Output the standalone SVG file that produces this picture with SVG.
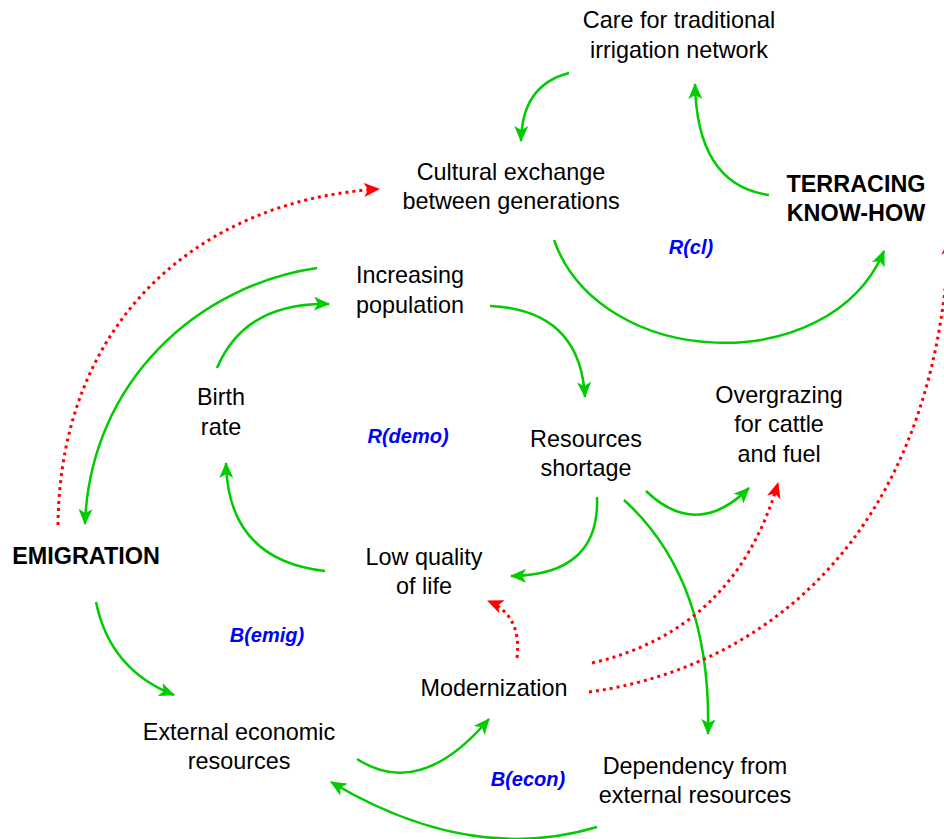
<svg xmlns="http://www.w3.org/2000/svg" width="944" height="839" viewBox="0 0 944 839">
<style>
.t{font-family:"Liberation Sans",Arial,sans-serif;font-size:23.4px;fill:#000;text-anchor:middle}
.b{font-weight:bold}
.l{font-family:"Liberation Sans",Arial,sans-serif;font-size:20px;font-weight:bold;font-style:italic;fill:#0000FF;text-anchor:middle}
.g{fill:none;stroke:#00CC00;stroke-width:2.5;marker-end:url(#ag)}
.r{fill:none;stroke:#FF0000;stroke-width:3;stroke-dasharray:3 4;marker-end:url(#ar)}
</style>
<defs>
<marker id="ag" viewBox="0 0 16 14" refX="15" refY="7" markerWidth="16" markerHeight="14" orient="auto" markerUnits="userSpaceOnUse">
<path d="M0,0 L16,7 L0,14 L4,7 z" fill="#00CC00"/>
</marker>
<marker id="ar" viewBox="0 0 16 14" refX="15" refY="7" markerWidth="16" markerHeight="14" orient="auto" markerUnits="userSpaceOnUse">
<path d="M0,0 L16,7 L0,14 L4,7 z" fill="#FF0000"/>
</marker>
</defs>
<rect width="944" height="839" fill="#fff"/>
<g id="connectors">
<path class="g" d="M569,73 Q522,85 521,141"/>
<path class="g" d="M769,195 Q697,185 695,84"/>
<path class="g" d="M554,240 C600,370 830,380 884,251"/>
<path class="g" d="M317,268 C200,285 90,380 85,524"/>
<path class="r" d="M58,525 C60,320 200,200 379,189"/>
<path class="g" d="M217,368 Q245,302 329,304"/>
<path class="g" d="M490,306 Q580,310 585,397"/>
<path class="g" d="M325,571 Q228,560 226,463"/>
<path class="g" d="M597,497 Q600,575 511,576"/>
<path class="g" d="M646,491 Q697,540 749,488"/>
<path class="g" d="M624,500 Q712,580 708,734"/>
<path class="r" d="M517,658 Q522,615 488,601"/>
<path class="r" d="M592,663 Q735,630 778,483"/>
<path class="r" d="M589,692 C765,668 935,535 949,240"/>
<path class="g" d="M96,602 Q110,670 174,695"/>
<path class="g" d="M357,759 Q420,800 489,719"/>
<path class="g" d="M597,827 Q470,865 331,782"/>
</g>
<g id="care"><text class="t" x="679" y="28">Care for traditional</text><text class="t" x="679" y="58">irrigation network</text></g>
<g id="cultural"><text class="t" x="511" y="180">Cultural exchange</text><text class="t" x="511" y="209">between generations</text></g>
<g id="terracing"><text class="t b" x="856" y="192">TERRACING</text><text class="t b" x="856" y="221">KNOW-HOW</text></g>
<g id="rcl"><text class="l" x="691" y="254">R(cl)</text></g>
<g id="increasing"><text class="t" x="410" y="283">Increasing</text><text class="t" x="410" y="313">population</text></g>
<g id="birth"><text class="t" x="221" y="405">Birth</text><text class="t" x="221" y="435">rate</text></g>
<g id="rdemo"><text class="l" x="408" y="443">R(demo)</text></g>
<g id="resources"><text class="t" x="586" y="447">Resources</text><text class="t" x="586" y="476">shortage</text></g>
<g id="overgrazing"><text class="t" x="779" y="403">Overgrazing</text><text class="t" x="779" y="432">for cattle</text><text class="t" x="779" y="462">and fuel</text></g>
<g id="emigration"><text class="t b" x="86" y="564">EMIGRATION</text></g>
<g id="lowquality"><text class="t" x="424" y="565">Low quality</text><text class="t" x="424" y="594">of life</text></g>
<g id="bemig"><text class="l" x="267" y="642">B(emig)</text></g>
<g id="modernization"><text class="t" x="494" y="696">Modernization</text></g>
<g id="external"><text class="t" x="239" y="740">External economic</text><text class="t" x="239" y="769">resources</text></g>
<g id="becon"><text class="l" x="528" y="786">B(econ)</text></g>
<g id="dependency"><text class="t" x="695" y="774">Dependency from</text><text class="t" x="695" y="803">external resources</text></g>
</svg>
